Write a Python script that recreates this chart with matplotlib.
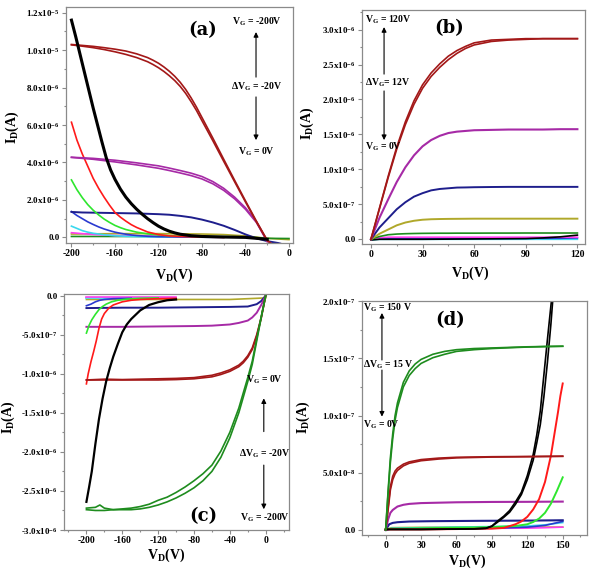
import numpy as np
import matplotlib
matplotlib.use("Agg")
import matplotlib.pyplot as plt
from matplotlib.ticker import MultipleLocator

plt.rcParams.update({
    "font.family": "Liberation Serif",
    "font.weight": "bold",
    "mathtext.fontset": "custom",
    "mathtext.rm": "Liberation Serif:bold",
    "mathtext.it": "Liberation Serif:bold",
    "mathtext.bf": "Liberation Serif:bold",
})

DRED = "#a31818"; PURP = "#a62aa6"; NAVY = "#1e1e8c"; BLUE = "#2a3ad0"
RED = "#ff1a1a"; LGRN = "#2ee62e"; CYAN = "#3ad8ee"; PINK = "#ff3cf0"
OLIVE = "#b0a82a"; DGRN = "#1e8c1e"; BLACK = "#000000"

# ---------------- panel (a): currents in uA ----------------
A_V10 = [-200, -190, -180, -170, -160, -150, -140, -130, -120, -110, -100,
         -90, -80, -70, -60, -50, -40, -30, -20]
A_DRED_V = [-200, -190, -180, -170, -160, -150, -140, -130, -125, -120, -115, -110,
            -105, -100, -95, -90, -85, -80, -70, -60, -50, -40, -30, -20, -17]
A_DRED_1 = [10.30, 10.25, 10.20, 10.13, 10.05, 9.95, 9.80, 9.60, 9.46, 9.30, 9.10,
            8.87, 8.60, 8.28, 7.90, 7.45, 6.95, 6.40, 5.30, 4.17, 3.05, 1.95, 0.87,
            -0.15, -0.30]
A_DRED_2 = [10.28, 10.21, 10.13, 10.03, 9.91, 9.77, 9.60, 9.38, 9.23, 9.06, 8.86,
            8.63, 8.37, 8.06, 7.69, 7.25, 6.77, 6.23, 5.16, 4.06, 2.97, 1.89, 0.83,
            -0.17, -0.30]
A_PURP_1 = [4.28, 4.25, 4.22, 4.17, 4.12, 4.05, 3.98, 3.90, 3.82, 3.70, 3.57,
            3.43, 3.25, 2.98, 2.62, 2.15, 1.58, 0.85, -0.22]
A_PURP_2 = [4.27, 4.22, 4.17, 4.10, 4.03, 3.95, 3.87, 3.78, 3.69, 3.57, 3.44,
            3.30, 3.12, 2.86, 2.51, 2.06, 1.50, 0.80, -0.22]
A_NAVY_V = A_V10 + [-10, -8]
A_NAVY = [1.36, 1.33, 1.32, 1.31, 1.30, 1.29, 1.28, 1.26, 1.24, 1.21, 1.15,
          1.07, 0.95, 0.80, 0.62, 0.40, 0.16, -0.05, -0.20, -0.30, -0.33]
A_BLK_V = [-200, -196, -192, -188, -184, -180, -176, -172, -168, -164, -160, -155,
           -150, -145, -140, -135, -130, -125, -120, -115, -110, -105, -100, -90,
           -80, -60, -40, -20]
A_BLK = [11.6, 10.7, 9.75, 8.8, 7.85, 6.9, 6.0, 5.1, 4.25, 3.6, 3.1, 2.58,
         2.15, 1.8, 1.5, 1.24, 1.0, 0.79, 0.6, 0.45, 0.33, 0.24, 0.17, 0.09,
         0.05, 0.02, 0.0, -0.1]
A_V5 = [-200, -195, -190, -185, -180, -175, -170, -165, -160, -155, -150, -145,
        -140, -130, -120, -110, -100, -80, -60]
A_RED = [6.15, 5.2, 4.45, 3.8, 3.15, 2.62, 2.15, 1.72, 1.33, 1.08, 0.87, 0.68,
         0.53, 0.29, 0.15, 0.08, 0.05, 0.02, 0.0]
A_LGRN = [3.07, 2.55, 2.12, 1.75, 1.45, 1.2, 0.98, 0.8, 0.64, 0.52, 0.42, 0.35,
          0.28, 0.19, 0.13, 0.09, 0.07, 0.04, 0.02]
A_BLUE = [1.38, 1.17, 1.0, 0.83, 0.69, 0.56, 0.45, 0.36, 0.28, 0.22, 0.17, 0.13,
          0.1, 0.06, 0.04, 0.03, 0.02, 0.01, 0.0]
A_CYAN_V = [-200, -195, -190, -185, -180, -170, -160, -150, -130, -110]
A_CYAN = [0.6, 0.48, 0.36, 0.28, 0.22, 0.14, 0.09, 0.06, 0.03, 0.02]
A_PINK_V = [-200, -190, -180, -170, -160, -140, -120]
A_PINK = [0.25, 0.2, 0.16, 0.13, 0.1, 0.07, 0.05]
A_FLAT_V = [-200, -160, -120, -80, -60, -40, -20, 0]
A_OLIVE = [0.18, 0.2, 0.2, 0.18, 0.15, 0.08, -0.05, -0.12]
A_DGRN = [0.05, 0.05, 0.05, 0.05, 0.04, 0.03, -0.05, -0.06]

# ---------------- panel (b): currents in uA ----------------
B_V5 = [0, 5, 10, 15, 20, 25, 30, 35, 40, 45, 50, 55, 60, 70, 80, 90, 100, 110, 120]
B_DRED_1 = [0, 0.45, 0.90, 1.32, 1.68, 1.98, 2.21, 2.38, 2.51, 2.62, 2.70, 2.76,
            2.81, 2.85, 2.86, 2.87, 2.87, 2.87, 2.87]
B_DRED_2 = [0, 0.44, 0.88, 1.29, 1.64, 1.93, 2.16, 2.33, 2.46, 2.57, 2.66, 2.73,
            2.78, 2.83, 2.85, 2.86, 2.87, 2.87, 2.87]
B_PURP = [0, 0.31, 0.57, 0.82, 1.03, 1.20, 1.33, 1.42, 1.48, 1.52, 1.54, 1.55,
          1.56, 1.565, 1.57, 1.57, 1.57, 1.575, 1.575]
B_NAVY = [0, 0.17, 0.30, 0.43, 0.53, 0.61, 0.66, 0.70, 0.72, 0.73, 0.74, 0.742,
          0.745, 0.748, 0.75, 0.75, 0.75, 0.75, 0.75]
B_OLIVE = [0, 0.08, 0.14, 0.20, 0.24, 0.265, 0.28, 0.287, 0.29, 0.292, 0.293, 0.294,
           0.295, 0.295, 0.295, 0.295, 0.295, 0.295, 0.295]
B_DGRN = [0, 0.04, 0.065, 0.075, 0.08, 0.083, 0.085, 0.086, 0.087, 0.087, 0.088, 0.088,
          0.088, 0.089, 0.089, 0.09, 0.09, 0.09, 0.09]
B_LOW_V = [0, 5, 10, 30, 60, 90, 100, 110, 120]
B_PINK = [0, 0.02, 0.03, 0.03, 0.03, 0.03, 0.03, 0.03, 0.03]
B_BLUE = [0, 0.01, 0.015, 0.015, 0.015, 0.015, 0.015, 0.015, 0.02]
B_CYAN = [-0.01, 0.0, 0.0, 0.0, 0.0, 0.0, 0.0, 0.0, 0.0]
B_BLK = [-0.01, 0.0, 0.0, 0.0, 0.005, 0.01, 0.02, 0.035, 0.06]

# ---------------- panel (c): currents in uA ----------------
C_GRN_V = [-200, -190, -185, -180, -170, -160, -150, -140, -130, -120, -110, -100,
           -90, -80, -70, -60, -50, -40, -30, -20, -15, -10, -5, 0]
C_GRN_1 = [-2.72, -2.71, -2.68, -2.72, -2.74, -2.74, -2.74, -2.73, -2.71, -2.68,
           -2.64, -2.59, -2.53, -2.46, -2.37, -2.25, -2.07, -1.82, -1.50, -1.10,
           -0.88, -0.58, -0.28, 0.0]
C_GRN_2 = [-2.74, -2.75, -2.75, -2.75, -2.74, -2.73, -2.72, -2.70, -2.67, -2.62,
           -2.58, -2.52, -2.45, -2.37, -2.28, -2.17, -1.99, -1.75, -1.44, -1.05,
           -0.84, -0.55, -0.27, 0.0]
C_DRED_V = [-200, -180, -160, -140, -120, -100, -80, -60, -50, -40, -30, -25, -20,
            -15, -10, -5, 0]
C_DRED_1 = [-1.08, -1.08, -1.08, -1.08, -1.08, -1.075, -1.065, -1.04, -1.01, -0.97,
            -0.91, -0.86, -0.79, -0.69, -0.52, -0.29, 0.0]
C_DRED_2 = [-1.08, -1.07, -1.075, -1.07, -1.065, -1.06, -1.05, -1.02, -0.99, -0.95,
            -0.89, -0.84, -0.77, -0.67, -0.50, -0.28, 0.0]
C_PURP_V = [-200, -160, -120, -80, -60, -40, -30, -20, -15, -10, -5, 0]
C_PURP = [-0.40, -0.40, -0.395, -0.39, -0.385, -0.37, -0.35, -0.32, -0.28, -0.22,
          -0.12, 0.0]
C_NAVY_V = [-200, -160, -120, -80, -40, -20, -10, -5, 0]
C_NAVY = [-0.16, -0.155, -0.155, -0.15, -0.145, -0.14, -0.11, -0.07, 0.0]
C_BLK_V = [-200, -197, -194, -190, -186, -182, -178, -174, -170, -165, -160, -155,
           -150, -140, -130, -120, -110, -100]
C_BLK = [-2.64, -2.45, -2.25, -1.9, -1.58, -1.32, -1.1, -0.93, -0.78, -0.62, -0.47,
         -0.37, -0.30, -0.19, -0.12, -0.085, -0.06, -0.05]
C_RED_V = [-200, -198, -195, -192, -189, -186, -183, -180, -175, -170, -160, -150,
           -140, -120, -100]
C_RED = [-1.13, -1.0, -0.85, -0.72, -0.58, -0.42, -0.30, -0.23, -0.16, -0.12, -0.08,
         -0.06, -0.05, -0.04, -0.035]
C_LGRN_V = [-200, -197, -194, -190, -186, -182, -178, -172, -165, -155, -140, -120]
C_LGRN = [-0.48, -0.38, -0.31, -0.24, -0.18, -0.14, -0.11, -0.08, -0.06, -0.045,
          -0.035, -0.03]
C_BLUE_V = [-200, -195, -190, -185, -180, -170, -150]
C_BLUE = [-0.13, -0.11, -0.08, -0.06, -0.05, -0.04, -0.035]
C_FLAT_V = [-200, -150, -100]
C_CYAN = [-0.03, -0.03, -0.03]
C_PINK = [-0.02, -0.02, -0.02]
C_OLIVE_V = [-200, -100, -40, 0]
C_OLIVE = [-0.05, -0.05, -0.05, -0.03]

# ---------------- panel (d): currents in nA ----------------
D_GRN_V = [0, 2, 4, 6, 8, 10, 15, 20, 25, 30, 40, 50, 60, 75, 90, 105, 120, 135, 150]
D_GRN_1 = [0, 33, 63, 84, 100, 111, 129, 139, 145, 149, 153.5, 156, 157.5, 158.5,
           159, 159.5, 160, 160.3, 160.5]
D_GRN_2 = [0, 31, 59, 80, 96, 107, 125, 135, 141, 145.5, 150.5, 153.5, 156, 157.5,
           158.5, 159.2, 159.8, 160.2, 160.5]
D_DRED_V = [0, 2, 4, 6, 8, 10, 15, 20, 30, 45, 60, 90, 120, 150]
D_DRED_1 = [0, 19, 38, 47, 51.5, 54, 57.5, 59.5, 61.5, 62.8, 63.5, 64, 64.2, 64.5]
D_DRED_2 = [0, 17, 35, 44, 49, 52, 56, 58.3, 60.5, 62, 63, 63.7, 64, 64.3]
D_PURP_V = [0, 2, 4, 6, 8, 10, 15, 20, 30, 60, 90, 120, 150]
D_PURP = [0, 9, 15, 17.5, 19, 20.5, 22, 22.8, 23.5, 24.2, 24.5, 24.6, 24.8]
D_NAVY_V = [0, 3, 6, 10, 20, 40, 80, 120, 150]
D_NAVY = [0, 5, 6.2, 6.8, 7.4, 7.7, 8.0, 8.2, 8.5]
D_BLK_V = [0, 30, 60, 75, 85, 90, 95, 100, 105, 110, 115, 120, 125, 128, 131, 134,
           137, 140, 141.5]
D_BLK_1 = [0.5, 0.5, 0.8, 1.0, 1.5, 3.5, 8, 12, 17, 24.5, 33, 47.5, 66, 83, 104,
           135, 166, 196, 210]
D_BLK_2 = [0.5, 0.5, 0.8, 1.0, 1.5, 3.2, 7, 11, 15.5, 22.5, 31, 44, 61, 76, 92, 116,
           146, 180, 200]
D_RED_V = [0, 30, 60, 90, 100, 110, 115, 120, 125, 130, 135, 140, 143, 146, 148, 150]
D_RED = [0.5, 0.5, 0.8, 1.2, 1.8, 5, 7.5, 11.5, 18, 27, 42, 65, 84, 103, 117, 128]
D_LGRN_V = [0, 30, 60, 90, 110, 120, 125, 130, 135, 140, 145, 150]
D_LGRN = [1.0, 1.5, 2.0, 2.5, 3.5, 5, 7, 10, 15, 23, 34, 46]
D_LOW_V = [0, 5, 30, 60, 90, 120, 135, 150]
D_OLIVE = [0, 2.0, 2.3, 2.5, 2.5, 2.5, 2.5, 2.5]
D_PINK = [0, 1.2, 1.4, 1.5, 1.5, 1.6, 2.0, 2.5]
D_CYAN = [0, 1.5, 2.0, 2.5, 3.0, 3.5, 4.5, 6.5]
D_BLUE = [0, 1.0, 1.0, 1.2, 1.5, 2.5, 4.0, 7.5]


def plot(ax, v, i, color, scale, lw=1.2, z=2):
    ax.plot(v, np.array(i) * scale, color=color, lw=lw, zorder=z)


def style(ax, xlim, ylim, xt, xminor, yt, ylab, yminor):
    ax.set_xlim(*xlim)
    ax.set_ylim(*ylim)
    ax.set_xticks(xt)
    ax.set_xticklabels([str(t) for t in xt])
    ax.xaxis.set_minor_locator(MultipleLocator(xminor))
    ax.set_yticks(yt)
    ax.set_yticklabels(ylab)
    ax.yaxis.set_minor_locator(MultipleLocator(yminor))
    for s in ax.spines.values():
        s.set_color("#8a8a8a")
        s.set_linewidth(0.9)
    ax.tick_params(which="both", direction="out", color="#8a8a8a", width=0.8, pad=1.5)
    ax.tick_params(axis="x", labelsize=7)
    ax.tick_params(axis="y", labelsize=6.5)
    ax.tick_params(which="major", length=3)
    ax.tick_params(which="minor", length=1.5)


def labels(ax, xl, yl):
    ax.text(xl[0], xl[1], r"V$_D$(V)", transform=ax.transAxes, ha="center",
            va="center", fontsize=10, fontweight="bold")
    ax.text(yl[0], yl[1], r"I$_D$(A)", transform=ax.transAxes, ha="center",
            va="center", fontsize=10, fontweight="bold", rotation=90)


def arrow(ax, x, y0, y1):
    ax.annotate("", xy=(x, y1), xytext=(x, y0), xycoords="axes fraction",
                textcoords="axes fraction",
                arrowprops=dict(arrowstyle="-|>", color="black", lw=0.8,
                                mutation_scale=7, shrinkA=0, shrinkB=0))


def note(ax, x, y, s, ha="center"):
    ax.text(x, y, s, transform=ax.transAxes, ha=ha, va="center", fontsize=7,
            fontweight="bold")


def panel(ax, s, x, y):
    ax.text(x, y, s, transform=ax.transAxes, ha="center", va="center",
            fontsize=13, fontweight="bold", family="DejaVu Serif")


fig = plt.figure(figsize=(5.91, 5.71), dpi=100)
axa = fig.add_axes([0.1117, 0.5744, 0.3841, 0.4133])
axb = fig.add_axes([0.6125, 0.5727, 0.3773, 0.4098])
axc = fig.add_axes([0.1083, 0.0718, 0.3807, 0.4133])
axd = fig.add_axes([0.6120, 0.0630, 0.3807, 0.4098])
u = 1e-6
n = 1e-9

# (a)
plot(axa, A_FLAT_V, A_OLIVE, OLIVE, u)
plot(axa, A_FLAT_V, A_DGRN, DGRN, u)
plot(axa, A_PINK_V, A_PINK, PINK, u)
plot(axa, A_CYAN_V, A_CYAN, CYAN, u)
plot(axa, A_V5, A_BLUE, BLUE, u)
plot(axa, A_NAVY_V, A_NAVY, NAVY, u, lw=1.4)
plot(axa, A_V5, A_LGRN, LGRN, u)
plot(axa, A_V5, A_RED, RED, u)
plot(axa, A_V10, A_PURP_1, PURP, u)
plot(axa, A_V10, A_PURP_2, PURP, u)
plot(axa, A_DRED_V, A_DRED_1, DRED, u)
plot(axa, A_DRED_V, A_DRED_2, DRED, u)
plot(axa, A_BLK_V, A_BLK, BLACK, u, lw=2.2, z=3)
style(axa, (-205, 3.7), (-0.3e-6, 12.3e-6), [-200, -160, -120, -80, -40, 0], 20,
      [0, 2e-6, 4e-6, 6e-6, 8e-6, 1e-5, 1.2e-5],
      ["0.0", "2.0x10$^{-6}$", "4.0x10$^{-6}$", "6.0x10$^{-6}$",
       "8.0x10$^{-6}$", "1.0x10$^{-5}$", "1.2x10$^{-5}$"], 1e-6)
labels(axa, (0.476, -0.136), (-0.238, 0.492))
panel(axa, "(a)", 0.604, 0.903)
note(axa, 0.84, 0.936, r"V$_G$ = -200V")
note(axa, 0.84, 0.661, r"ΔV$_G$ = -20V")
note(axa, 0.84, 0.386, r"V$_G$ = 0V")
arrow(axa, 0.837, 0.703, 0.894)
arrow(axa, 0.837, 0.619, 0.436)

# (b)
plot(axb, B_LOW_V, B_CYAN, CYAN, u)
plot(axb, B_LOW_V, B_BLUE, BLUE, u)
plot(axb, B_LOW_V, B_PINK, PINK, u)
plot(axb, B_LOW_V, B_BLK, BLACK, u)
plot(axb, B_V5, B_DGRN, DGRN, u)
plot(axb, B_V5, B_OLIVE, OLIVE, u, lw=1.4)
plot(axb, B_V5, B_NAVY, NAVY, u, lw=1.4)
plot(axb, B_V5, B_PURP, PURP, u, lw=1.5)
plot(axb, B_V5, B_DRED_1, DRED, u)
plot(axb, B_V5, B_DRED_2, DRED, u)
style(axb, (-5.2, 124.4), (-0.067e-6, 3.28e-6), [0, 30, 60, 90, 120], 15,
      [0, 5e-7, 1e-6, 1.5e-6, 2e-6, 2.5e-6, 3e-6],
      ["0.0", "5.0x10$^{-7}$", "1.0x10$^{-6}$", "1.5x10$^{-6}$",
       "2.0x10$^{-6}$", "2.5x10$^{-6}$", "3.0x10$^{-6}$"], 2.5e-7)
labels(axb, (0.484, -0.124), (-0.247, 0.517))
panel(axb, "(b)", 0.39, 0.923)
note(axb, 0.013, 0.957, r"V$_G$ = 120V", ha="left")
note(axb, 0.013, 0.688, r"ΔV$_G$= 12V", ha="left")
note(axb, 0.013, 0.415, r"V$_G$ = 0V", ha="left")
arrow(axb, 0.099, 0.726, 0.927)
arrow(axb, 0.099, 0.654, 0.444)

# (c)
plot(axc, C_OLIVE_V, C_OLIVE, OLIVE, u)
plot(axc, C_FLAT_V, C_CYAN, CYAN, u)
plot(axc, C_FLAT_V, C_PINK, PINK, u)
plot(axc, C_BLUE_V, C_BLUE, BLUE, u)
plot(axc, C_NAVY_V, C_NAVY, NAVY, u, lw=1.4)
plot(axc, C_PURP_V, C_PURP, PURP, u, lw=1.4)
plot(axc, C_LGRN_V, C_LGRN, LGRN, u)
plot(axc, C_RED_V, C_RED, RED, u)
plot(axc, C_DRED_V, C_DRED_1, DRED, u)
plot(axc, C_DRED_V, C_DRED_2, DRED, u)
plot(axc, C_GRN_V, C_GRN_1, DGRN, u)
plot(axc, C_GRN_V, C_GRN_2, DGRN, u)
plot(axc, C_BLK_V, C_BLK, BLACK, u, lw=1.6, z=3)
style(axc, (-225, 26), (-3.0e-6, 0.02e-6), [-200, -160, -120, -80, -40, 0], 20,
      [0, -5e-7, -1e-6, -1.5e-6, -2e-6, -2.5e-6, -3e-6],
      ["0.0", "-5.0x10$^{-7}$", "-1.0x10$^{-6}$", "-1.5x10$^{-6}$",
       "-2.0x10$^{-6}$", "-2.5x10$^{-6}$", "-3.0x10$^{-6}$"], 2.5e-7)
labels(axc, (0.453, -0.106), (-0.249, 0.479))
panel(axc, "(c)", 0.619, 0.06)
note(axc, 0.891, 0.636, r"V$_G$ = 0V")
note(axc, 0.891, 0.325, r"ΔV$_G$ = -20V")
note(axc, 0.891, 0.050, r"V$_G$ = -200V")
arrow(axc, 0.888, 0.417, 0.558)
arrow(axc, 0.888, 0.275, 0.088)

# (d)
plot(axd, D_LOW_V, D_OLIVE, OLIVE, n)
plot(axd, D_LOW_V, D_PINK, PINK, n)
plot(axd, D_LOW_V, D_CYAN, CYAN, n)
plot(axd, D_LOW_V, D_BLUE, BLUE, n)
plot(axd, D_NAVY_V, D_NAVY, NAVY, n, lw=1.5)
plot(axd, D_PURP_V, D_PURP, PURP, n, lw=1.5)
plot(axd, D_LGRN_V, D_LGRN, LGRN, n, lw=1.4)
plot(axd, D_RED_V, D_RED, RED, n, lw=1.4)
plot(axd, D_BLK_V, D_BLK_1, BLACK, n)
plot(axd, D_BLK_V, D_BLK_2, BLACK, n)
plot(axd, D_DRED_V, D_DRED_1, DRED, n)
plot(axd, D_DRED_V, D_DRED_2, DRED, n)
plot(axd, D_GRN_V, D_GRN_1, DGRN, n)
plot(axd, D_GRN_V, D_GRN_2, DGRN, n)
style(axd, (-20.3, 170.3), (-4.4e-9, 2.0e-7), [0, 30, 60, 90, 120, 150], 15,
      [0, 5e-8, 1e-7, 1.5e-7, 2e-7],
      ["0.0", "5.0x10$^{-8}$", "1.0x10$^{-7}$", "1.5x10$^{-7}$",
       "2.0x10$^{-7}$"], 2.5e-8)
labels(axd, (0.468, -0.112), (-0.261, 0.504))
panel(axd, "(d)", 0.392, 0.919)
note(axd, 0.005, 0.972, r"V$_G$ = 150 V", ha="left")
note(axd, 0.005, 0.726, r"ΔV$_G$ = 15 V", ha="left")
note(axd, 0.005, 0.47, r"V$_G$ = 0V", ha="left")
arrow(axd, 0.09, 0.748, 0.949)
arrow(axd, 0.09, 0.705, 0.506)

fig.savefig("out.png", dpi=100)
